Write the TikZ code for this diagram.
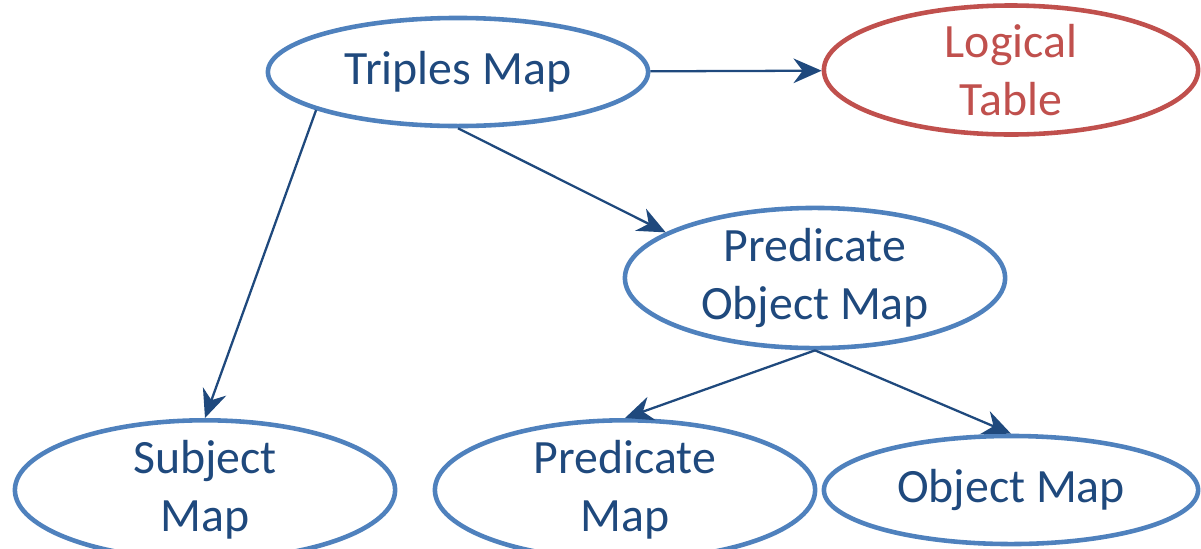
\documentclass[tikz,border=0pt]{standalone}
\usepackage{fontspec}
\setmainfont{Carlito}
\usetikzlibrary{shapes.geometric,arrows.meta}
\definecolor{rimblue}{HTML}{4F81BD}
\definecolor{rimred}{HTML}{C0504D}
\definecolor{inkblue}{HTML}{1F497D}

\begin{document}
\begin{tikzpicture}
  [x=0.01cm,y=-0.01cm,
   every node/.style={ellipse,draw=rimblue,line width=1.3pt,minimum width=3.8cm,minimum height=1.08cm,
     inner sep=0pt,align=center,text=inkblue,font=\fontsize{13.6}{16.4}\selectfont},
   link/.style={draw=inkblue,line width=0.65pt,-{Stealth[length=8pt,width=7pt]}}]
  \useasboundingbox (0,0) rectangle (1201,548);

  \node (tm) at (458,72) {Triples Map};
  \node[draw=rimred,text=rimred,minimum width=3.74cm] (lt) at (1011,70) {Logical\\Table};
  \node (pom) at (815,278) {Predicate\\Object Map};
  \node (sm) at (205,490) {Subject\\Map};
  \node (pm) at (625,490) {Predicate\\Map};
  \node[minimum width=3.74cm] (om) at (1011,490) {Object Map};

  \draw[link] (tm) -- (lt);
  \draw[link] (tm.195.6) -- (sm.north);
  \draw[link] (tm.south) -- (pom.163);
  \draw[link] (pom.south) -- (pm.north);
  \draw[link] (pom.south) -- (om.north);

\end{tikzpicture}
\end{document}
